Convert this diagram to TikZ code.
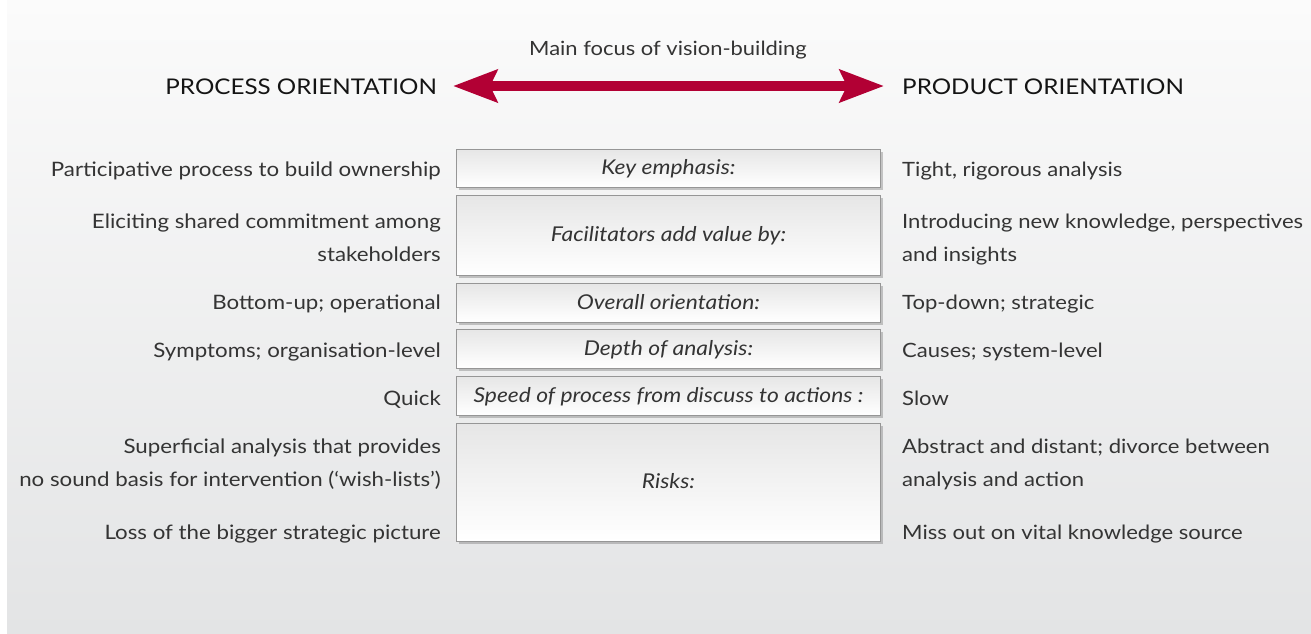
\documentclass[tikz,border=0pt]{standalone}
\usepackage{fontspec}
\setmainfont[FakeStretch=1.12]{Lato}
\usetikzlibrary{arrows.meta,shadows}
\definecolor{arrowred}{RGB}{178,0,52}
\definecolor{txt}{RGB}{52,52,52}
\definecolor{head}{RGB}{20,20,20}
\definecolor{bgtop}{RGB}{251,251,251}
\definecolor{bgbot}{RGB}{227,228,229}
\definecolor{boxtop}{RGB}{230,230,230}
\definecolor{boxline}{RGB}{150,150,150}
\tikzset{
  lefttxt/.style={anchor=base east,align=right,inner sep=0pt,text=txt,font=\fontsize{19.9}{32.5}\selectfont},
  righttxt/.style={anchor=base west,align=left,inner sep=0pt,text=txt,font=\fontsize{19.7}{32.5}\selectfont},
  headtxt/.style={inner sep=0pt,text=head,font=\fontsize{21.6}{26}\selectfont},
  focustxt/.style={inner sep=0pt,text=txt,font=\fontsize{19.6}{24}\selectfont},
  rowbox/.style={draw=boxline,line width=0.8pt,top color=boxtop,bottom color=white,
    minimum width=424pt,inner sep=0pt,text=txt,font=\fontsize{20.4}{24}\selectfont\itshape,
    text height=14pt,text depth=1pt,
    drop shadow={shadow xshift=2.5pt,shadow yshift=-2.5pt,opacity=0.35,fill=black!60}},
  bigarrow/.style={draw=arrowred,line width=10pt,{Stealth[length=44pt,width=32pt,inset=7pt]}-{Stealth[length=44pt,width=32pt,inset=7pt]}}
}
\begin{document}
\begin{tikzpicture}[x=1pt,y=-1pt]
\useasboundingbox (0,0) rectangle (1311,633);
\fill[white] (0,0) rectangle (1311,633);
\shade[top color=bgtop,bottom color=bgbot] (7,0) rectangle (1311,633);

% header
\node[focustxt,anchor=base] (focus) at (668,55) {Main focus of vision-building};
\node[headtxt,anchor=base east] (proc) at (437,94) {PROCESS ORIENTATION};
\node[headtxt,anchor=base west] (prod) at (902,94) {PRODUCT ORIENTATION};
\draw[bigarrow] ([xshift=16pt,yshift=8pt]proc.base east) -- ([xshift=-18pt,yshift=8pt]prod.base west);

% boxes
\node[rowbox,minimum height=38pt] (b1) at (668.5,168) {Key emphasis:};
\node[rowbox,minimum height=80pt] (b2) at (668.5,235) {Facilitators add value by:};
\node[rowbox,minimum height=39pt] (b3) at (668.5,302.5) {Overall orientation:};
\node[rowbox,minimum height=39pt] (b4) at (668.5,348.5) {Depth of analysis:};
\node[rowbox,minimum height=39pt] (b5) at (668.5,395.5) {Speed of process from discuss to actions :};
\node[rowbox,minimum height=118pt] (b6) at (668.5,482) {Risks:};

% left column
\node[lefttxt] (l1) at (441,176) {Participative process to build ownership};
\node[lefttxt] (l2) at (441,261) {Eliciting shared commitment among\\stakeholders};
\node[lefttxt] (l3) at (441,309) {Bottom-up; operational};
\node[lefttxt] (l4) at (441,357) {Symptoms; organisation-level};
\node[lefttxt] (l5) at (441,405) {Quick};
\node[lefttxt] (l6) at (441,486) {Superficial analysis that provides\\no sound basis for intervention (‘wish-lists’)};
\node[lefttxt] (l7) at (441,539) {Loss of the bigger strategic picture};

% right column
\node[righttxt] (r1) at (902,176) {Tight, rigorous analysis};
\node[righttxt] (r2) at (902,261) {Introducing new knowledge, perspectives\\and insights};
\node[righttxt] (r3) at (902,309) {Top-down; strategic};
\node[righttxt] (r4) at (902,357) {Causes; system-level};
\node[righttxt] (r5) at (902,405) {Slow};
\node[righttxt] (r6) at (902,486) {Abstract and distant; divorce between\\analysis and action};
\node[righttxt] (r7) at (902,539) {Miss out on vital knowledge source};
\end{tikzpicture}
\end{document}
